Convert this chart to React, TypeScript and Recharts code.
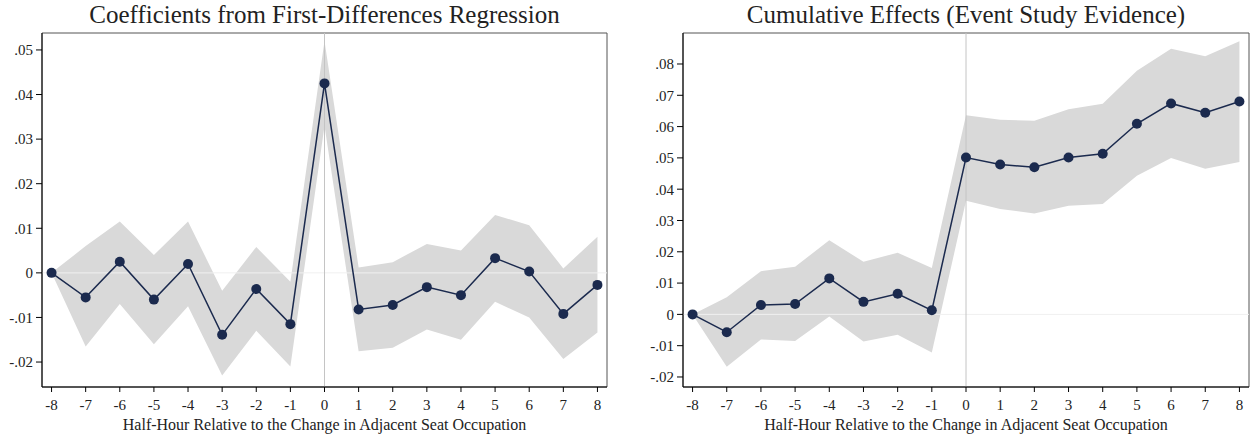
import { ComposedChart, Area, Line, XAxis, YAxis, ReferenceLine, ReferenceArea } from 'recharts';

const periods = [-8, -7, -6, -5, -4, -3, -2, -1, 0, 1, 2, 3, 4, 5, 6, 7, 8];

// first-differences coefficients with 95% bands
const coef = [0, -0.0055, 0.0025, -0.006, 0.002, -0.0139, -0.0036, -0.0115, 0.0425, -0.0082, -0.0072, -0.0032, -0.005, 0.0033, 0.0003, -0.0092, -0.0027];
const coefLo = [0, -0.0165, -0.007, -0.016, -0.0075, -0.023, -0.013, -0.021, 0.033, -0.0176, -0.0168, -0.0127, -0.015, -0.0065, -0.01, -0.0193, -0.0134];
const coefHi = [0, 0.006, 0.0115, 0.004, 0.0115, -0.004, 0.0058, -0.002, 0.052, 0.0012, 0.0024, 0.0065, 0.005, 0.013, 0.0107, 0.001, 0.0081];

// cumulative effects with 95% bands
const cum = [0, -0.0057, 0.003, 0.0033, 0.0115, 0.004, 0.0066, 0.0013, 0.0501, 0.0479, 0.047, 0.0501, 0.0513, 0.0609, 0.0674, 0.0644, 0.068];
const cumLo = [0, -0.0167, -0.008, -0.0085, -0.0007, -0.0087, -0.0065, -0.0122, 0.0363, 0.0337, 0.0322, 0.0347, 0.0353, 0.0443, 0.05, 0.0465, 0.0487];
const cumHi = [0, 0.0055, 0.0138, 0.0152, 0.0237, 0.0168, 0.0197, 0.0148, 0.0636, 0.0622, 0.0619, 0.0655, 0.0673, 0.0778, 0.0849, 0.0825, 0.0873];

const leftTicks = [-0.02, -0.01, 0, 0.01, 0.02, 0.03, 0.04, 0.05];
const rightTicks = [-0.02, -0.01, 0, 0.01, 0.02, 0.03, 0.04, 0.05, 0.06, 0.07, 0.08];

const NAVY = '#1b2a4e';
const BAND = '#d9d9d9';
const FONT = '"Liberation Serif", "DejaVu Serif", serif';
const TXT = '#222';

const fmtY = (v: number) => {
  if (Math.abs(v) < 1e-9) return '0';
  const s = Math.abs(v).toFixed(2).replace(/^0/, '');
  return (v < 0 ? '-' : '') + s;
};

function Panel({ title, est, lo, hi, ticks, yDomain, left, width, yAxisW, marginRight }: {
  title: string; est: number[]; lo: number[]; hi: number[]; ticks: number[];
  yDomain: [number, number]; left: number; width: number; yAxisW: number; marginRight: number;
}) {
  const data = periods.map((p, i) => ({ p, est: est[i], band: [lo[i], hi[i]] }));
  const xDomain: [number, number] = [-8.28, 8.28];
  const plotLeft = yAxisW;
  const plotW = width - yAxisW - marginRight;
  return (
    <div style={{ position: 'absolute', left, top: 0, width, height: 437 }}>
      <div style={{
        position: 'absolute', left: plotLeft, width: plotW, top: 0, textAlign: 'center',
        fontFamily: FONT, fontSize: 25, color: TXT, lineHeight: '30px',
      }}>{title}</div>
      <ComposedChart width={width} height={437} data={data}
        margin={{ top: 33, right: marginRight, bottom: 0, left: 0 }}>
        <XAxis dataKey="p" type="number" domain={xDomain} ticks={periods} allowDataOverflow
          height={50} tickSize={5} tickMargin={7} interval={0}
          axisLine={{ stroke: '#000' }} tickLine={{ stroke: '#000' }}
          tick={{ fill: TXT, fontSize: 15, fontFamily: FONT }}
          label={{ value: 'Half-Hour Relative to the Change in Adjacent Seat Occupation', position: 'insideBottom', offset: 7, fill: TXT, fontSize: 16, fontFamily: FONT }} />
        <YAxis type="number" domain={yDomain} ticks={ticks} allowDataOverflow width={yAxisW}
          tickSize={6} tickMargin={3} tickFormatter={fmtY} interval={0}
          axisLine={{ stroke: '#000' }} tickLine={{ stroke: '#000' }}
          tick={{ fill: TXT, fontSize: 15, fontFamily: FONT }} />
        <ReferenceArea x1={xDomain[0]} x2={xDomain[1]} y1={yDomain[0]} y2={yDomain[1]}
          fill="none" stroke="#555" strokeWidth={1} ifOverflow="visible" />
        <ReferenceLine y={0} stroke="#f0f0f0" />
        <Area dataKey="band" type="linear" fill={BAND} fillOpacity={1} stroke="none" isAnimationActive={false} />
        <ReferenceLine x={0} stroke="#c4c4c4" strokeWidth={1} />
        <Line dataKey="est" type="linear" stroke={NAVY} strokeWidth={1.5}
          dot={{ r: 5, fill: NAVY, stroke: NAVY, strokeWidth: 0 }} activeDot={false} isAnimationActive={false} />
      </ComposedChart>
    </div>
  );
}

export default function App() {
  return (
    <div style={{ position: 'relative', width: 1256, height: 437, background: '#fff', overflow: 'hidden' }}>
      <style>{'body{margin:0}'}</style>
      <Panel title="Coefficients from First-Differences Regression" est={coef} lo={coefLo} hi={coefHi}
        ticks={leftTicks} yDomain={[-0.0256, 0.0538]} left={0} width={620} yAxisW={42} marginRight={13} />
      <Panel title="Cumulative Effects (Event Study Evidence)" est={cum} lo={cumLo} hi={cumHi}
        ticks={rightTicks} yDomain={[-0.0232, 0.0899]} left={630} width={626} yAxisW={53} marginRight={7} />
    </div>
  );
}
